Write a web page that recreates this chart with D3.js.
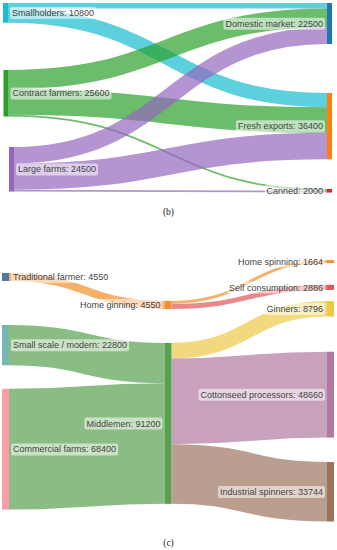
<!DOCTYPE html>
<html>
<head>
<meta charset="utf-8">
<script src="https://cdn.jsdelivr.net/npm/d3@7"></script>
<style>
  body { margin: 0; background: #fff; }
  svg text { font-family: Arial, "Liberation Sans", Helvetica, sans-serif; }
  .caption { font-family: "Liberation Serif", "DejaVu Serif", serif; }
</style>
</head>
<body>
<svg id="chart" width="337" height="550"></svg>
<script>
// ---- panel (b): production systems -> markets
const bNames = ['Smallholders', 'Contract farmers', 'Large farms', 'Domestic market', 'Fresh exports', 'Canned'];
const bColumns = [0, 0, 0, 1, 1, 1];
const bSources = [0, 0, 1, 1, 1, 2, 2, 2];
const bTargets = [3, 4, 3, 4, 5, 3, 4, 5];
const bValues = [3000, 7800, 10500, 14100, 1000, 9000, 14500, 1000];

// ---- panel (c): cotton chain
const cNames = ['Traditional farmer', 'Small scale / modern', 'Commercial farms', 'Home ginning', 'Middlemen',
  'Home spinning', 'Self consumption', 'Ginners', 'Cottonseed processors', 'Industrial spinners'];
const cColumns = [0, 0, 0, 1, 1, 2, 2, 2, 2, 2];
const cSources = [0, 1, 2, 3, 3, 4, 4, 4];
const cTargets = [3, 4, 4, 5, 6, 7, 8, 9];
const cValues = [4550, 22800, 68400, 1664, 2886, 8796, 48660, 33744];

// node arrangement hints (centre, fraction of panel height), like plotly node.y
const bNodeY = [0.052, 0.475, 0.875, 0.108, 0.648, 0.988];
const bNodeDx = [0, 0.5, 6, 0, 0, 0];
const cNodeY = [0.065, 0.326, 0.725, 0.172, 0.626, 0.006, 0.105, 0.187, 0.516, 0.888];

const bColors = ['#17becf', '#2ca02c', '#9467bd', '#1f77b4', '#ff7f0e', '#d62728'];
const cColors = ['#4e79a7', '#76b7b2', '#ff9da7', '#f28e2b', '#59a14f', '#f28e2b', '#e15759', '#edc948', '#b07aa1', '#9c755f'];

const svg = d3.select('#chart');

function sankey(opt) {
  const g = svg.append('g');
  const nodes = opt.names.map((name, i) => ({
    name, i, col: opt.columns[i], ins: 0, outs: 0, srcLinks: [], tgtLinks: []
  }));
  const links = opt.sources.map((s, i) => ({
    source: nodes[s], target: nodes[opt.targets[i]], value: opt.values[i]
  }));
  links.forEach(l => {
    l.source.outs += l.value; l.source.srcLinks.push(l);
    l.target.ins += l.value; l.target.tgtLinks.push(l);
  });
  nodes.forEach(n => n.value = Math.max(n.ins, n.outs));

  const cols = d3.groups(nodes, n => n.col).map(d => d[1]);
  const ky = d3.min(cols, c => (opt.height - (c.length - 1) * opt.nodePad) / d3.sum(c, n => n.value));
  const h = d3.scaleLinear().domain([0, 1]).range([0, ky]);
  const x = d3.scalePoint().domain(d3.range(cols.length)).range([opt.x0, opt.x1 - opt.nodeWidth]);
  const y = d3.scaleLinear().domain([0, 1]).range([opt.top, opt.top + opt.height]);

  nodes.forEach(n => {
    n.x0 = x(n.col) + (opt.nodeDx ? opt.nodeDx[n.i] : 0);
    n.x1 = n.x0 + opt.nodeWidth;
    const hh = h(n.value);
    n.y0 = y(opt.nodeY[n.i]) - hh / 2;
    n.y1 = n.y0 + hh;
  });
  nodes.forEach(n => {
    n.srcLinks.sort((a, b) => a.target.y0 - b.target.y0);
    n.tgtLinks.sort((a, b) => a.source.y0 - b.source.y0);
    let yy = n.y0;
    n.srcLinks.forEach(l => { l.width = h(l.value); l.y0 = yy + l.width / 2; yy += l.width; });
    yy = n.y0;
    n.tgtLinks.forEach(l => { l.y1 = yy + h(l.value) / 2; yy += h(l.value); });
  });

  const path = d3.linkHorizontal()
    .source(d => [d.source.x1, d.y0])
    .target(d => [d.target.x0, d.y1]);

  g.append('g')
    .selectAll('path')
    .data(links)
    .join('path')
      .attr('d', path)
      .attr('fill', 'none')
      .attr('stroke', d => opt.colors[opt.linkBy === 'source' ? d.source.i : d.target.i])
      .attr('stroke-opacity', 0.7)
      .attr('stroke-width', d => Math.max(1, d.width));

  g.append('g')
    .selectAll('rect')
    .data(nodes)
    .join('rect')
      .attr('x', d => d.x0)
      .attr('y', d => d.y0)
      .attr('width', d => d.x1 - d.x0)
      .attr('height', d => Math.max(1.5, d.y1 - d.y0))
      .attr('fill', d => opt.colors[d.i]);

  const lab = g.append('g')
    .selectAll('g')
    .data(nodes)
    .join('g');
  lab.append('rect');
  lab.append('text')
    .attr('x', d => d.col === 0 ? d.x1 + 4 : d.x0 - 4)
    .attr('y', d => (d.y0 + d.y1) / 2)
    .attr('dy', '0.35em')
    .attr('text-anchor', d => d.col === 0 ? 'start' : 'end')
    .attr('font-size', 9)
    .attr('fill', '#444')
    .text(d => d.name + ': ' + d.value);
  lab.each(function () {
    const bb = d3.select(this).select('text').node().getBBox();
    d3.select(this).select('rect')
      .attr('x', bb.x - 2).attr('y', bb.y - 1)
      .attr('width', bb.width + 4).attr('height', bb.height + 2)
      .attr('rx', 2)
      .attr('fill', '#fff').attr('fill-opacity', 0.55);
  });
}

sankey({
  names: bNames, columns: bColumns, sources: bSources, targets: bTargets, values: bValues,
  colors: bColors, nodeY: bNodeY, nodeDx: bNodeDx, linkBy: 'source',
  x0: 3, x1: 332, top: 3, height: 190, nodeWidth: 5, nodePad: 39.6
});

sankey({
  names: cNames, columns: cColumns, sources: cSources, targets: cTargets, values: cValues,
  colors: cColors, nodeY: cNodeY, linkBy: 'target',
  x0: 2, x1: 334, top: 260, height: 261, nodeWidth: 7, nodePad: 23
});

svg.append('text').attr('class', 'caption')
  .attr('x', 168.5).attr('y', 215).attr('text-anchor', 'middle')
  .attr('font-size', 9.5).attr('fill', '#222').text('(b)');
svg.append('text').attr('class', 'caption')
  .attr('x', 168.5).attr('y', 546).attr('text-anchor', 'middle')
  .attr('font-size', 9.5).attr('fill', '#222').text('(c)');
</script>
</body>
</html>
